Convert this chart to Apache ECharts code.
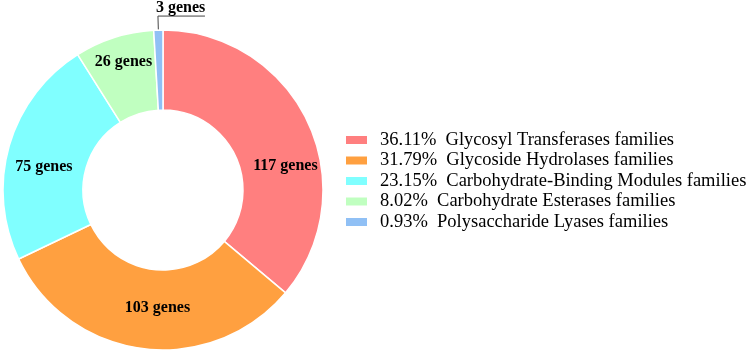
<!DOCTYPE html>
<html>
<head>
<meta charset="utf-8">
<script src="https://cdn.jsdelivr.net/npm/echarts@6/dist/echarts.min.js"></script>
<style>html,body{margin:0;padding:0;background:#fff;}#c{width:750px;height:354px;}</style>
</head>
<body>
<div id="c"></div>
<script>
const categories = [
  'Glycosyl Transferases families',
  'Glycoside Hydrolases families',
  'Carbohydrate-Binding Modules families',
  'Carbohydrate Esterases families',
  'Polysaccharide Lyases families'
];
const geneCounts = [117, 103, 75, 26, 3];
const colors = ['#FF7F7F', '#FFA040', '#80FFFF', '#C0FFC0', '#90C0F5'];
// label nudges (style only)
const labelOffsets = [[11, 28], [10, -4], [-1, 11], [-2, -11], [0, 0]];

const total = geneCounts.reduce((a, b) => a + b, 0);
const pct = {};
categories.forEach((c, i) => { pct[c] = (geneCounts[i] / total * 100).toFixed(2) + '%'; });

const chart = echarts.init(document.getElementById('c'), null, {renderer: 'canvas'});
chart.setOption({
  animation: false,
  color: colors,
  legend: {
    orient: 'vertical',
    left: 344,
    top: 129.75,
    padding: 0,
    itemWidth: 23,
    itemHeight: 10,
    itemGap: 0,
    icon: 'rect',
    data: categories,
    formatter: name => pct[name] + '  ' + name,
    textStyle: {
      fontFamily: 'Liberation Serif',
      fontSize: 18.5,
      color: '#000',
      lineHeight: 20.5,
      padding: [0, 0, 0, 7]
    }
  },
  series: [{
    type: 'pie',
    center: [163, 190],
    radius: [80, 160],
    startAngle: 90,
    clockwise: true,
    avoidLabelOverlap: false,
    itemStyle: {borderColor: '#fff', borderWidth: 1.5},
    label: {
      show: true,
      position: 'inside',
      formatter: p => p.value + ' genes',
      fontFamily: 'Liberation Serif',
      fontWeight: 'bold',
      fontSize: 16,
      color: '#000'
    },
    labelLine: {show: false},
    labelLayout: function (p) {
      if (p.dataIndex === 4 && p.labelLinePoints) {
        const pts = p.labelLinePoints;
        const p0 = pts[0], p1 = pts[1];
        const len2 = Math.abs(pts[2][0] - p1[0]);
        return {
          x: p1[0] - 2, y: p1[1] - 0.5,
          align: 'left', verticalAlign: 'bottom',
          labelLinePoints: [p0, [p1[0], p1[1]], [p1[0] + len2, p1[1]]]
        };
      }
      const o = labelOffsets[p.dataIndex];
      return {dx: o[0], dy: o[1]};
    },
    data: categories.map((c, i) => {
      const d = {name: c, value: geneCounts[i]};
      if (i === 4) {
        d.label = {position: 'outside'};
        d.labelLine = {show: true, length: 14, length2: 47, lineStyle: {color: '#444', width: 1}};
      }
      return d;
    })
  }]
});
</script>
</body>
</html>
